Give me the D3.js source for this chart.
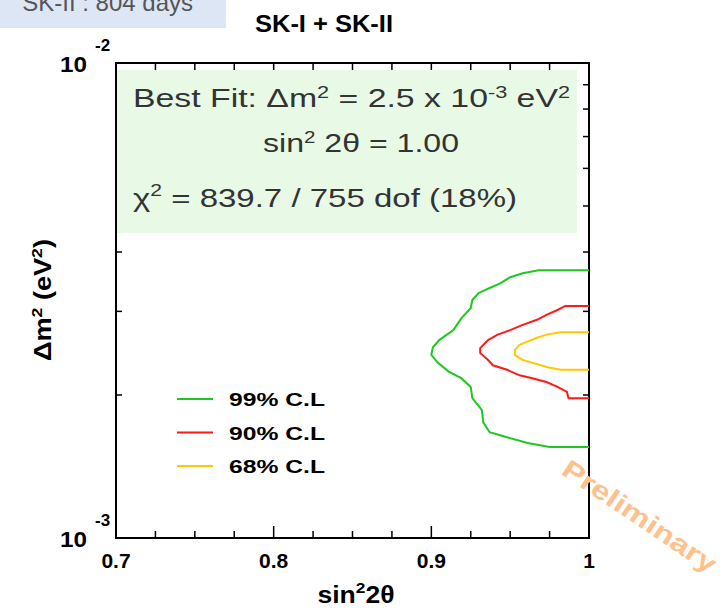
<!DOCTYPE html>
<html>
<head>
<meta charset="utf-8">
<script src="https://cdn.jsdelivr.net/npm/d3@7"></script>
<style>
  body { margin: 0; background: #fff; }
  svg { display: block; }
  text { font-family: "Liberation Sans", Arial, sans-serif; }
</style>
</head>
<body>
<svg class="chart" width="723" height="608"></svg>
<script>
// contours: [sin^2 2theta, dm^2 (eV^2)]
const contour99 = [
  [1.0, 3.66e-3], [0.968, 3.66e-3], [0.958, 3.61e-3], [0.950, 3.54e-3], [0.944, 3.44e-3],
  [0.937, 3.36e-3], [0.930, 3.28e-3], [0.926, 3.17e-3], [0.925, 3.05e-3], [0.919, 2.90e-3],
  [0.914, 2.74e-3], [0.905, 2.61e-3], [0.901, 2.52e-3], [0.900, 2.43e-3], [0.904, 2.34e-3],
  [0.911, 2.24e-3], [0.919, 2.17e-3], [0.925, 2.08e-3], [0.926, 1.97e-3], [0.932, 1.86e-3],
  [0.933, 1.75e-3], [0.937, 1.67e-3], [0.948, 1.63e-3], [0.961, 1.585e-3], [0.975, 1.555e-3],
  [1.0, 1.555e-3],
];
const contour90 = [
  [1.0, 3.08e-3], [0.985, 3.08e-3], [0.980, 3.02e-3], [0.973, 2.95e-3], [0.967, 2.88e-3],
  [0.958, 2.81e-3], [0.950, 2.74e-3], [0.942, 2.68e-3], [0.936, 2.61e-3], [0.931, 2.51e-3],
  [0.931, 2.45e-3], [0.936, 2.37e-3], [0.939, 2.31e-3], [0.948, 2.26e-3], [0.956, 2.20e-3],
  [0.964, 2.17e-3], [0.973, 2.13e-3], [0.980, 2.08e-3], [0.986, 2.03e-3], [0.987, 1.97e-3],
  [1.0, 1.97e-3],
];
const contour68 = [
  [1.0, 2.71e-3], [0.982, 2.71e-3], [0.973, 2.68e-3], [0.967, 2.64e-3], [0.961, 2.59e-3],
  [0.956, 2.55e-3], [0.953, 2.49e-3], [0.953, 2.43e-3], [0.958, 2.37e-3], [0.964, 2.34e-3],
  [0.973, 2.29e-3], [0.982, 2.26e-3], [1.0, 2.26e-3],
];
const legendLabels = ['99% C.L', '90% C.L', '68% C.L'];
const legendColors = ['#1ec81e', '#ff1a1a', '#ffc800'];
const xMajor = [0.7, 0.8, 0.9, 1.0];
const xLabels = ['0.7', '0.8', '0.9', '1'];
const yMinor = [2e-3, 3e-3, 4e-3, 5e-3, 6e-3, 7e-3, 8e-3, 9e-3];

const startApp = () => {
  const frame = { left: 116, right: 589, top: 63, bottom: 538 };
  const svg = d3.select('.chart');

  const xScale = d3.scaleLinear().domain([0.7, 1.0]).range([frame.left, frame.right]);
  const yScale = d3.scaleLog().domain([1e-3, 1e-2]).range([frame.bottom, frame.top]);
  const xMinor = d3.range(0, 13).map(i => 0.7 + i * 0.025)
    .filter(v => !xMajor.some(m => Math.abs(m - v) < 1e-6));

  // corner label of the slide (cut by the page edge, as in the original) and the title
  svg.append('rect').attr('x', 0).attr('y', 0).attr('width', 226).attr('height', 28)
    .attr('fill', '#dce6f5');
  svg.append('text').attr('x', 193).attr('y', 11).attr('text-anchor', 'end')
    .attr('font-family', 'Open Sans, sans-serif').attr('font-size', 24).attr('fill', '#555')
    .text('SK-II : 804 days');
  svg.append('text').attr('x', 324).attr('y', 32).attr('text-anchor', 'middle')
    .attr('font-size', 24).attr('font-weight', 'bold').attr('textLength', 138)
    .attr('lengthAdjust', 'spacingAndGlyphs')
    .text('SK-I + SK-II');

  const axes = svg.append('g').attr('stroke', '#000').attr('stroke-width', 1.5);

  // ticks, all pointing inward
  const xTicks = (values, len) => {
    values.forEach(v => {
      axes.append('line').attr('x1', xScale(v)).attr('x2', xScale(v))
        .attr('y1', frame.bottom).attr('y2', frame.bottom - len);
      axes.append('line').attr('x1', xScale(v)).attr('x2', xScale(v))
        .attr('y1', frame.top).attr('y2', frame.top + len);
    });
  };
  xTicks(xMinor, 7);
  xTicks(xMajor, 12);
  yMinor.forEach(v => {
    axes.append('line').attr('x1', frame.left).attr('x2', frame.left + 6)
      .attr('y1', yScale(v)).attr('y2', yScale(v));
    axes.append('line').attr('x1', frame.right).attr('x2', frame.right - 6)
      .attr('y1', yScale(v)).attr('y2', yScale(v));
  });

  // best fit box
  svg.append('rect').attr('x', 117).attr('y', 70).attr('width', 460).attr('height', 163)
    .attr('fill', '#e8fae6');
  const fit = svg.append('g').attr('font-family', 'Open Sans, sans-serif')
    .attr('font-size', 25).attr('fill', '#333');
  const line1 = fit.append('text').attr('x', 133).attr('y', 107)
    .attr('textLength', 437).attr('lengthAdjust', 'spacingAndGlyphs');
  line1.append('tspan').text('Best Fit: \u0394m');
  line1.append('tspan').attr('font-size', 16).attr('dy', -9).text('2');
  line1.append('tspan').attr('dy', 9).text(' = 2.5 x 10');
  line1.append('tspan').attr('font-size', 16).attr('dy', -9).text('-3');
  line1.append('tspan').attr('dy', 9).text(' eV');
  line1.append('tspan').attr('font-size', 16).attr('dy', -9).text('2');
  const line2 = fit.append('text').attr('x', 263).attr('y', 152)
    .attr('textLength', 196).attr('lengthAdjust', 'spacingAndGlyphs');
  line2.append('tspan').text('sin');
  line2.append('tspan').attr('font-size', 16).attr('dy', -9).text('2');
  line2.append('tspan').attr('dy', 9).text(' 2\u03b8 = 1.00');
  const line3 = fit.append('text').attr('x', 133).attr('y', 207)
    .attr('textLength', 384).attr('lengthAdjust', 'spacingAndGlyphs');
  line3.append('tspan').text('\u03c7');
  line3.append('tspan').attr('font-size', 16).attr('dy', -11).text('2');
  line3.append('tspan').attr('dy', 11).text(' = 839.7 / 755 dof (18%)');

  // frame on top of the box
  svg.append('rect').attr('x', frame.left).attr('y', frame.top)
    .attr('width', frame.right - frame.left).attr('height', frame.bottom - frame.top)
    .attr('fill', 'none').attr('stroke', '#000').attr('stroke-width', 2);

  // contours
  const line = d3.line().x(d => xScale(d[0])).y(d => yScale(d[1]));
  [contour99, contour90, contour68].forEach((c, i) => {
    svg.append('path').datum(c).attr('d', line).attr('fill', 'none')
      .attr('stroke', legendColors[i]).attr('stroke-width', 2);
  });

  // legend
  legendLabels.forEach((label, i) => {
    const yPos = 399 + i * 33.5;
    svg.append('line').attr('x1', 177).attr('x2', 213).attr('y1', yPos).attr('y2', yPos)
      .attr('stroke', legendColors[i]).attr('stroke-width', 2);
    svg.append('text').attr('x', 229).attr('y', yPos + 7).attr('font-size', 18)
      .attr('font-weight', 'bold').attr('textLength', 96).attr('lengthAdjust', 'spacingAndGlyphs')
      .text(label);
  });

  // tick labels
  const labels = svg.append('g').attr('font-weight', 'bold').attr('fill', '#000');
  xMajor.forEach((v, i) => {
    labels.append('text').attr('x', xScale(v)).attr('y', 568).attr('text-anchor', 'middle')
      .attr('font-size', 21).text(xLabels[i]);
  });
  [[1e-2, '-2'], [1e-3, '-3']].forEach(([v, p]) => {
    labels.append('text').attr('x', 60).attr('y', yScale(v) + 9).attr('font-size', 22)
      .attr('textLength', 27).attr('lengthAdjust', 'spacingAndGlyphs').text('10');
    labels.append('text').attr('x', 95).attr('y', yScale(v) - 12).attr('font-size', 17)
      .text(p);
  });

  // axis titles
  const yTitle = svg.append('text').attr('transform', 'translate(51, 300) rotate(-90)')
    .attr('text-anchor', 'middle').attr('font-size', 23).attr('font-weight', 'bold')
    .attr('textLength', 122).attr('lengthAdjust', 'spacingAndGlyphs');
  yTitle.append('tspan').text('\u0394m');
  yTitle.append('tspan').attr('font-size', 15).attr('dy', -9).text('2');
  yTitle.append('tspan').attr('dy', 9).text(' (eV');
  yTitle.append('tspan').attr('font-size', 15).attr('dy', -9).text('2');
  yTitle.append('tspan').attr('dy', 9).text(')');
  const xTitle = svg.append('text').attr('x', 356).attr('y', 603)
    .attr('text-anchor', 'middle').attr('font-size', 23).attr('font-weight', 'bold')
    .attr('textLength', 77).attr('lengthAdjust', 'spacingAndGlyphs');
  xTitle.append('tspan').text('sin');
  xTitle.append('tspan').attr('font-size', 15).attr('dy', -10).text('2');
  xTitle.append('tspan').attr('dy', 10).text('2\u03b8');

  // preliminary stamp
  svg.append('text').attr('transform', 'translate(639, 517) rotate(34)')
    .attr('text-anchor', 'middle').attr('dy', 8).attr('font-size', 26)
    .attr('font-weight', 'bold').attr('fill', '#ffc08c')
    .attr('textLength', 180).attr('lengthAdjust', 'spacingAndGlyphs')
    .text('Preliminary');
};

window.onload = startApp;
</script>
</body>
</html>
